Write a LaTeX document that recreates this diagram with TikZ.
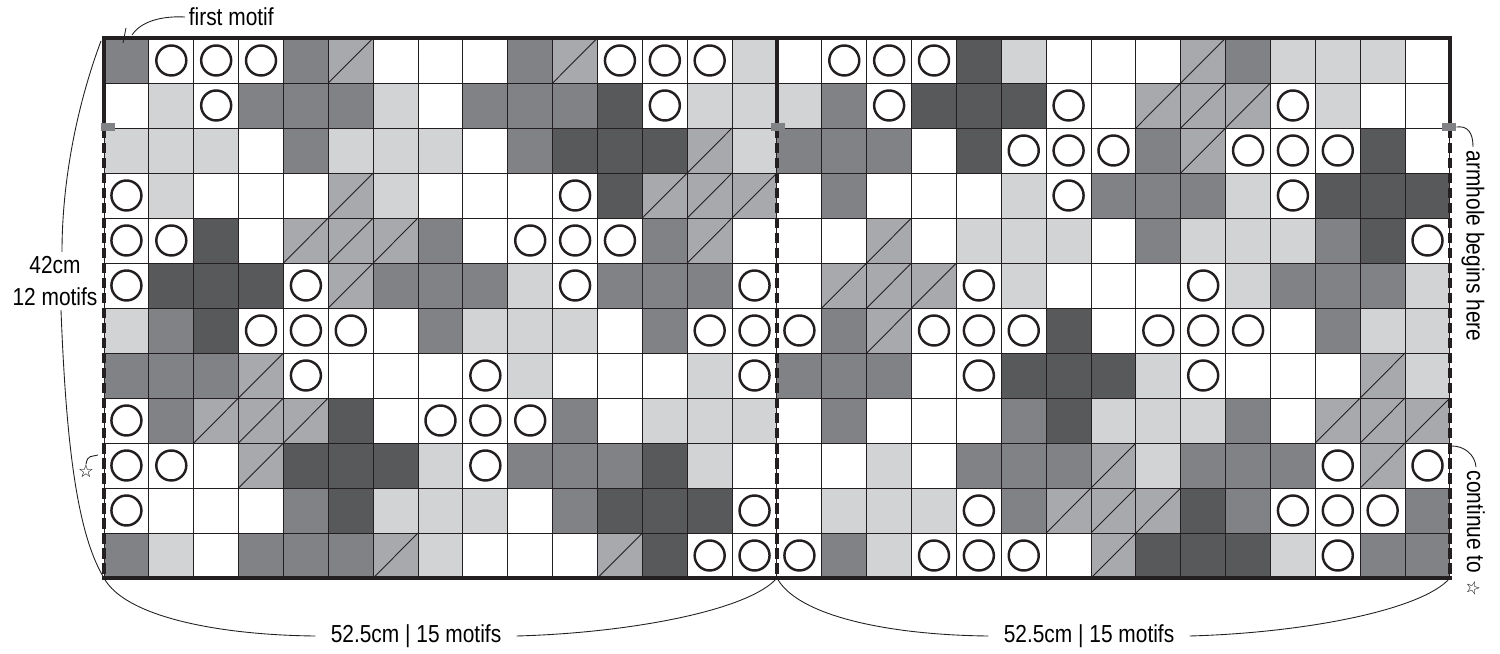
\documentclass[tikz,border=0pt]{standalone}
\usepackage{fontspec}
\setmainfont[FakeStretch=0.85]{Liberation Sans}
\newfontfamily\symfont{DejaVu Sans}
\definecolor{lgray}{HTML}{D1D3D4}
\definecolor{mgray}{HTML}{808285}
\definecolor{dgray}{HTML}{58595B}
\definecolor{sgray}{HTML}{A7A9AC}
\definecolor{ink}{HTML}{231F20}
\tikzset{
  cell/.style={draw=ink, line width=0.55pt, minimum width=0.8973cm, minimum height=0.9cm, inner sep=0pt, outer sep=0pt},
  cellW/.style={cell, fill=white},
  cellL/.style={cell, fill=lgray},
  cellM/.style={cell, fill=mgray},
  cellD/.style={cell, fill=dgray},
  cellS/.style={cell, fill=sgray, path picture={\draw[ink, line width=0.5pt] (path picture bounding box.south west) -- (path picture bounding box.north east);}},
  cellO/.style={cell, fill=white, path picture={\draw[ink, line width=1.4pt] (path picture bounding box.center) circle (0.3cm);}},
  rim/.style={ink, line width=2.4pt, line cap=rect},
  seam/.style={ink, line width=2pt, dash pattern=on 0.21cm off 0.09cm},
  marker/.style={fill=mgray, draw=none, minimum width=0.28cm, minimum height=0.16cm, inner sep=0pt},
  lbl/.style={font=\fontsize{14}{18.7}\selectfont, inner sep=2pt},
  lead/.style={ink, line width=0.5pt},
}
\begin{document}
\begin{tikzpicture}
  \useasboundingbox (-2.08,-1.52) rectangle (27.92,11.56);
  % Chart cells
  \foreach \cells [count=\r] in {%
    {M,O,O,O,M,S,W,W,W,M,S,O,O,O,L,W,O,O,O,D,L,W,W,W,S,M,L,L,L,W},%
    {W,L,O,M,M,M,L,W,M,M,M,D,O,L,L,L,M,O,D,D,D,O,W,S,S,S,O,L,W,W},%
    {L,L,L,W,M,L,L,L,W,M,D,D,D,S,L,M,M,M,W,D,O,O,O,M,S,O,O,O,D,W},%
    {O,L,W,W,W,S,L,W,W,W,O,D,S,S,S,W,M,W,W,W,L,O,M,M,M,L,O,D,D,D},%
    {O,O,D,W,S,S,S,M,W,O,O,O,M,S,W,W,W,S,W,L,L,L,W,M,L,L,L,M,D,O},%
    {O,D,D,D,O,S,M,M,M,L,O,M,M,M,O,W,S,S,S,O,L,W,W,W,O,L,M,M,M,L},%
    {L,M,D,O,O,O,W,M,L,L,L,W,M,O,O,O,M,S,O,O,O,D,W,O,O,O,W,M,L,L},%
    {M,M,M,S,O,W,W,W,O,L,W,W,W,L,O,M,M,M,W,O,D,D,D,L,O,W,W,W,S,L},%
    {O,M,S,S,S,D,W,O,O,O,M,W,L,L,L,W,M,W,W,W,M,D,L,L,L,M,W,S,S,S},%
    {O,O,W,S,D,D,D,L,O,M,M,M,D,L,W,W,W,L,W,M,M,M,S,L,M,M,M,O,S,O},%
    {O,W,W,W,M,D,L,L,L,W,M,D,D,D,O,W,L,L,L,O,M,S,S,S,D,M,O,O,O,M},%
    {M,L,W,M,M,M,S,L,W,W,W,S,D,O,O,O,M,L,O,O,O,W,S,D,D,D,L,O,M,M}}{
    \foreach \t [count=\c] in \cells
      \node[cell\t] (c-\r-\c) at ({(\c-0.5)*0.8973}, {10.8-(\r-0.5)*0.9}) {};
  }
  % Edges and seams
  \draw[rim] (0,10.8) -- (26.92,10.8);
  \draw[rim] (0,0) -- (26.92,0);
  \foreach \x in {0,13.46,26.92} {
    \draw[rim] (\x,10.8) -- (\x,9.0);
    \draw[seam] (\x,9.0) -- (\x,0);
  }
  \node[marker] (mk-l) at (0.08,9.02) {};
  \node[marker] (mk-m) at (13.48,9.02) {};
  \node[marker] (mk-r) at (26.9,9.02) {};
  % First motif
  \node[lbl, anchor=west] (first) at (1.62,11.22) {first motif};
  \draw[lead] (first.west) .. controls (1.0,11.25) and (0.68,11.05) .. (0.56,10.86);
  \draw[lead] (0.44,11.0) -- (0.38,10.7);
  % Height
  \node[lbl, align=center] (height) at (-0.98,5.94) {42cm\\12 motifs};
  \draw[lead] ([xshift=0.14cm]height.north) .. controls +(0,1.5) and +(-0.45,-1.2) .. (-0.06,10.74);
  \draw[lead] ([xshift=0.12cm]height.south) .. controls +(0.1,-2.6) and +(-0.55,0.9) .. (0,0);
  \node[font=\symfont\fontsize{10}{12}\selectfont, inner sep=0pt] (star-l) at (-0.36,2.14) {☆};
  \draw[lead] (star-l.north) .. controls +(0.03,0.2) and +(-0.12,-0.04) .. (-0.12,2.46);
  % Widths
  \node[lbl, inner xsep=0.3cm] (width-l) at (6.24,-1.16) {52.5cm | 15 motifs};
  \node[lbl, inner xsep=0.3cm] (width-r) at (19.7,-1.16) {52.5cm | 15 motifs};
  \draw[lead] (0,0) .. controls (0.4,-0.75) and (2.2,-1.14) .. (width-l.west);
  \draw[lead] (width-l.east) .. controls (10.5,-1.1) and (12.9,-0.65) .. (13.46,0);
  \draw[lead] (13.46,0) .. controls (13.86,-0.75) and (15.66,-1.14) .. (width-r.west);
  \draw[lead] (width-r.east) .. controls (23.96,-1.1) and (26.36,-0.65) .. (26.92,0);
  % Right notes
  \node[lbl, rotate=-90, anchor=west] (armhole) at (27.38,8.62) {armhole begins here};
  \draw[lead] (mk-r.east) .. controls (27.28,9.05) and (27.38,8.9) .. (armhole.west);
  \node[lbl, rotate=-90, anchor=west] (cont) at (27.44,2.22) {continue to\hspace{0.3em}{\symfont\fontsize{10}{12}\selectfont ☆}};
  \draw[lead] (26.96,2.64) .. controls (27.2,2.64) and (27.42,2.47) .. (cont.west);
\end{tikzpicture}
\end{document}
